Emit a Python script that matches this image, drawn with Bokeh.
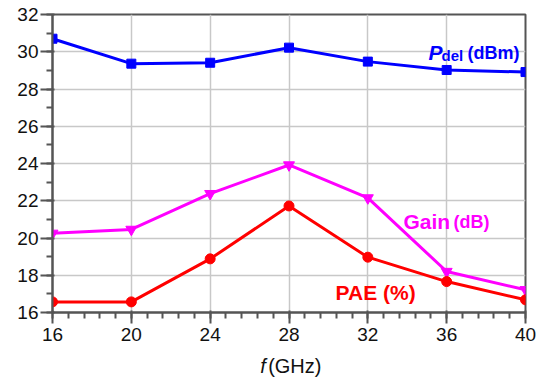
from bokeh.plotting import figure
from bokeh.layouts import column
from bokeh.models import Range1d, FixedTicker, Label
from bokeh.embed import file_html
from bokeh.resources import INLINE

freq = [16, 20, 24, 28, 32, 36, 40]
pdel = [30.70, 29.36, 29.41, 30.22, 29.47, 29.02, 28.91]
gain = [20.25, 20.46, 22.38, 23.92, 22.15, 18.20, 17.22]
pae = [16.57, 16.57, 18.88, 21.72, 18.97, 17.66, 16.68]
x_ticks = [16, 20, 24, 28, 32, 36, 40]
y_ticks = [16, 18, 20, 22, 24, 26, 28, 30, 32]

FONT = "Liberation Sans"
BLUE = "#0000FF"
MAG = "#FF00FF"
RED = "#FF0000"
AX = "#555555"

p = figure(width=544, height=350, output_backend="svg", toolbar_location=None,
           x_range=Range1d(16, 40), y_range=Range1d(16, 32),
           min_border_left=52, min_border_right=19, min_border_top=14, min_border_bottom=38)
p.outline_line_color = AX
p.outline_line_width = 2

p.xaxis.ticker = FixedTicker(ticks=x_ticks, minor_ticks=[16 + 0.8 * i for i in range(31)])
p.yaxis.ticker = FixedTicker(ticks=y_ticks, minor_ticks=list(range(16, 33)))
p.axis.axis_line_color = AX
p.axis.axis_line_width = 2
p.axis.major_label_text_font = FONT
p.axis.major_label_text_font_size = "19px"
p.axis.major_label_text_color = "#111111"
p.xaxis.major_tick_out = 11
p.xaxis.minor_tick_out = 6
p.yaxis.major_tick_out = 12
p.yaxis.minor_tick_out = 6
p.xaxis.major_label_standoff = 4
p.yaxis.major_label_standoff = 2
p.axis.major_tick_line_color = AX
p.axis.minor_tick_line_color = AX
p.axis.major_tick_line_width = 2
p.axis.minor_tick_line_width = 2

p.xgrid.ticker = FixedTicker(ticks=x_ticks)
p.ygrid.ticker = FixedTicker(ticks=y_ticks)
p.grid.grid_line_color = "#c8c8c8"
p.grid.grid_line_width = 1.5

p.line(freq, pdel, line_color=BLUE, line_width=3)
p.scatter(freq, pdel, marker="square", size=9, color=BLUE)
p.line(freq, gain, line_color=MAG, line_width=3)
p.scatter(freq, gain, marker="inverted_triangle", size=11, color=MAG)
p.line(freq, pae, line_color=RED, line_width=3)
p.scatter(freq, pae, marker="circle", size=10, color=RED)

def lab(fig, x, y, text, color, size, style="bold"):
    fig.add_layout(Label(x=x, y=y, text=text, text_color=color, text_font=FONT,
                         text_font_size=size, text_font_style=style,
                         text_baseline="alphabetic", text_align="left"))

lab(p, 35.08, 29.96, "P", BLUE, "21px", "bold italic")
lab(p, 35.74, 29.80, "del", BLUE, "15px")
lab(p, 37.06, 29.91, "(dBm)", BLUE, "18px")
lab(p, 33.81, 20.86, "Gain", MAG, "21px")
lab(p, 36.35, 20.86, "(dB)", MAG, "18px")
lab(p, 30.36, 17.06, "PAE (%)", RED, "21px")

q = figure(width=544, height=31, output_backend="svg", toolbar_location=None,
           x_axis_type=None, y_axis_type=None,
           x_range=Range1d(0, 544), y_range=Range1d(0, 31),
           min_border=0, min_border_left=0, min_border_right=0,
           min_border_top=0, min_border_bottom=0)
q.outline_line_color = None
q.grid.visible = False
lab(q, 239, 16, "f", "#111111", "20px", "italic")
lab(q, 248, 16, "(GHz)", "#111111", "20px", "normal")

layout = column(p, q, spacing=0)
open("out.html", "w").write(file_html(layout, INLINE))
